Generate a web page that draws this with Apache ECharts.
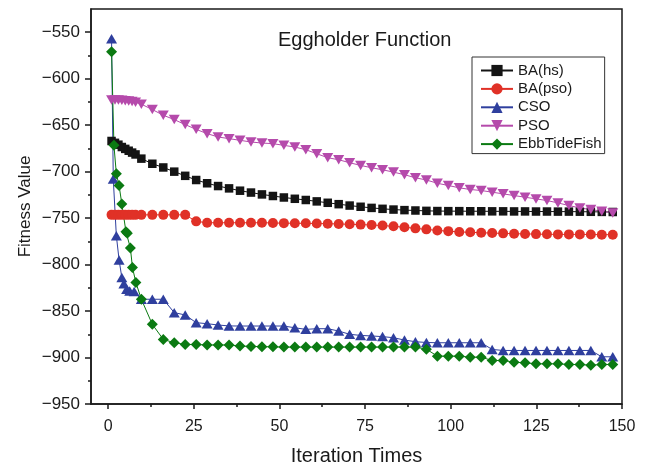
<!DOCTYPE html>
<html>
<head>
<meta charset="utf-8">
<script src="https://cdn.jsdelivr.net/npm/echarts@6/dist/echarts.min.js"></script>
<style>
  html, body { margin: 0; padding: 0; background: #fff; }
  #chart { width: 649px; height: 467px; }
</style>
</head>
<body>
<div id="chart"></div>
<script>
// Iteration positions shared by the later part of every curve
const tailIter = [9.7, 12.9, 16.1, 19.3, 22.5, 25.7, 28.9, 32.1, 35.3, 38.5, 41.7, 44.9, 48.1, 51.3,
  54.5, 57.7, 60.9, 64.1, 67.3, 70.5, 73.7, 76.9, 80.1, 83.3, 86.5, 89.7, 92.9, 96.1, 99.3, 102.5,
  105.7, 108.9, 112.1, 115.3, 118.5, 121.7, 124.9, 128.1, 131.3, 134.5, 137.7, 140.9, 144.1, 147.3];

// Early iterations (sampled densely) per algorithm
const baHsHeadIter  = [1, 2, 3, 4, 5, 6, 7, 8];
const baPsoHeadIter = [1, 2, 3, 4, 5, 6, 7, 8];
const csoHeadIter   = [1, 1.5, 2.4, 3.2, 4, 4.6, 5.4, 6.3, 7.6];
const psoHeadIter   = [1, 2, 3, 4, 5, 6, 7, 8];
const ebbHeadIter   = [1, 1.7, 2.4, 3.2, 4, 5.2, 5.6, 6.5, 7.1, 8.1];

// Best fitness values
const baHsValues = [-667, -669, -671, -673.5, -675.5, -677.5, -679.5, -681.5,
  -686, -691.5, -695.5, -700, -704.5, -709, -712.5, -715.5, -718, -720.5, -722.5, -724.5, -726.2, -727.8,
  -729.2, -730.5, -732, -733.5, -735, -736.5, -737.8, -739, -740, -740.8, -741.4, -741.8, -742.2, -742.4,
  -742.5, -742.5, -742.6, -742.6, -742.7, -742.7, -742.8, -742.8, -742.9, -742.9, -743, -743, -743.1,
  -743.2, -743.3, -743.4];

const baPsoValues = [-746.5, -746.5, -746.5, -746.5, -746.5, -746.5, -746.5, -746.5,
  -746.5, -746.5, -746.5, -746.5, -746.5, -753.5, -755, -755, -755, -755, -755, -755, -755.2, -755.4,
  -755.5, -755.6, -755.8, -756, -756.3, -756.6, -757, -757.4, -758, -758.8, -759.8, -761, -762.1, -763.3,
  -764, -764.9, -765.2, -765.8, -766.1, -766.4, -766.8, -767, -767.2, -767.4, -767.5, -767.5, -767.5,
  -767.6, -767.8, -767.8];

const csoValues = [-557, -708, -769, -795, -814, -820.5, -826.5, -828.3, -829,
  -837.3, -837.3, -837.3, -851.7, -854.2, -862.5, -863.6, -865, -866, -866.1, -866.1, -866.1, -866.1,
  -866.1, -868, -869.7, -869, -869, -871.5, -875, -876.2, -876.8, -877.5, -878.7, -881.2, -883, -883.8,
  -884.1, -884.1, -884.1, -884.1, -884.1, -891.3, -892.4, -892.4, -892.4, -892.4, -892.4, -892.4, -892.4,
  -892.4, -892.4, -899.2, -899.2];

const psoValues = [-623, -623, -623, -623.3, -623.6, -624, -624.5, -625.2,
  -627.4, -633.2, -639.3, -644, -649.4, -654.5, -659.1, -662.7, -664.5, -666.3,
  -668.1, -669.2, -669.9, -671.7, -673.5, -676.4, -680.7, -685, -687.2, -690.4,
  -693.3, -695.8, -698, -700.5, -703.3, -706.6, -709, -712.5, -714.9, -717.4,
  -719.2, -720.3, -722.1, -723.9, -725.7, -727.5, -729.3, -731.1, -733.6, -736.5,
  -739, -740.8, -742.6, -744.4];

const ebbValues = [-571, -671.7, -702.3, -715, -734.7, -764.6, -766.4, -782.2, -803.1, -819.3,
  -837.3, -864.3, -880.5, -884.1, -885.9, -886, -886.5, -886.5, -886.5, -887.7, -888, -888.3, -888.5,
  -888.8, -888.8, -888.8, -888.8, -888.8, -888.8, -888.8, -888.8, -888.8, -888.8, -888.8, -888.8, -888.8,
  -891, -898.5, -898.5, -898.5, -899.6, -899.6, -903.2, -903.2, -905, -905.7, -906.8, -906.8, -906.8,
  -907.5, -907.5, -908.2, -907.5, -907.5];

// Axis ticks
const xMajorTicks = [0, 25, 50, 75, 100, 125, 150];
const xMinorTicks = [12.5, 37.5, 62.5, 87.5, 112.5, 137.5];
const yMajorTicks = [-950, -900, -850, -800, -750, -700, -650, -600, -550];
const yMinorTicks = [-925, -875, -825, -775, -725, -675, -625, -575];

const FONT = '"Liberation Sans", Arial, Helvetica, sans-serif';
const INK = '#1a1a1a';

function pairs(xs, ys) {
  return xs.map((x, i) => [x, ys[i]]);
}

const seriesDefs = [
  { name: 'BA(hs)', iters: baHsHeadIter.concat(tailIter), values: baHsValues,
    color: '#141414', symbol: 'rect', size: 8.5 },
  { name: 'BA(pso)', iters: baPsoHeadIter.concat(tailIter), values: baPsoValues,
    color: '#e03127', symbol: 'circle', size: 10 },
  { name: 'CSO', iters: csoHeadIter.concat(tailIter), values: csoValues,
    color: '#2f3f9e', symbol: 'triangle', size: [11, 9.5] },
  { name: 'PSO', iters: psoHeadIter.concat(tailIter), values: psoValues,
    color: '#b54aab', symbol: 'path://M0,0L10,0L5,8.7Z', size: [11, 9.5] },
  { name: 'EbbTideFish', iters: ebbHeadIter.concat(tailIter), values: ebbValues,
    color: '#0b7a12', symbol: 'diamond', size: 11 }
];

const axisLineStyle = { color: INK, width: 1.5 };

const option = {
  animation: false,
  backgroundColor: '#fff',
  title: {
    text: 'Eggholder Function',
    left: 278, top: 30, padding: 0,
    textStyle: { fontFamily: FONT, fontSize: 20, fontWeight: 'normal', color: INK }
  },
  legend: {
    orient: 'vertical',
    left: 472, top: 57,
    padding: [6, 3, 2, 8],
    itemGap: 3.4,
    itemWidth: 32, itemHeight: 14,
    borderColor: '#333', borderWidth: 1,
    textStyle: { fontFamily: FONT, fontSize: 15, color: INK },
    data: seriesDefs.map(s => s.name)
  },
  grid: {
    left: 91, right: 27, top: 9, bottom: 63,
    outerBoundsMode: 'none',
    containLabel: false,
    show: true, borderColor: INK, borderWidth: 1.5, backgroundColor: 'transparent'
  },
  xAxis: [
    {
      type: 'value', min: -5, max: 150, position: 'bottom',
      axisLine: { show: true, onZero: false, lineStyle: axisLineStyle },
      axisTick: { show: true, customValues: xMajorTicks, length: 5, lineStyle: axisLineStyle },
      axisLabel: { customValues: xMajorTicks, margin: 15, fontFamily: FONT, fontSize: 16, color: INK },
      splitLine: { show: false },
      name: 'Iteration Times', nameLocation: 'middle', nameGap: 42, nameMoveOverlap: false,
      nameTextStyle: { fontFamily: FONT, fontSize: 20, color: INK }
    },
    {
      type: 'value', min: -5, max: 150, position: 'bottom', offset: 0,
      axisLine: { show: false, onZero: false },
      axisTick: { show: true, customValues: xMinorTicks, length: 3, lineStyle: axisLineStyle },
      axisLabel: { show: false },
      splitLine: { show: false }
    }
  ],
  yAxis: [
    {
      type: 'value', min: -950, max: -525, position: 'left',
      axisLine: { show: true, onZero: false, lineStyle: axisLineStyle },
      axisTick: { show: true, customValues: yMajorTicks, length: 6, lineStyle: axisLineStyle },
      axisLabel: {
        customValues: yMajorTicks, margin: 11, fontFamily: FONT, fontSize: 17, color: INK,
        formatter: v => String(v).replace('-', '\u2212')
      },
      splitLine: { show: false },
      name: 'Fitness Value', nameLocation: 'middle', nameGap: 57, nameRotate: 90, nameMoveOverlap: false,
      nameTextStyle: { fontFamily: FONT, fontSize: 17, color: INK }
    },
    {
      type: 'value', min: -950, max: -525, position: 'left', offset: 0,
      axisLine: { show: false, onZero: false },
      axisTick: { show: true, customValues: yMinorTicks, length: 3, lineStyle: axisLineStyle },
      axisLabel: { show: false },
      splitLine: { show: false }
    }
  ],
  series: seriesDefs.map(s => ({
    name: s.name,
    type: 'line',
    xAxisIndex: 0, yAxisIndex: 0,
    data: pairs(s.iters, s.values),
    symbol: s.symbol,
    symbolSize: s.size,
    showAllSymbol: true,
    itemStyle: { color: s.color },
    lineStyle: { color: s.color, width: 1 }
  }))
};

const chart = echarts.init(document.getElementById('chart'), null, { renderer: 'canvas' });
chart.setOption(option);
</script>
</body>
</html>
